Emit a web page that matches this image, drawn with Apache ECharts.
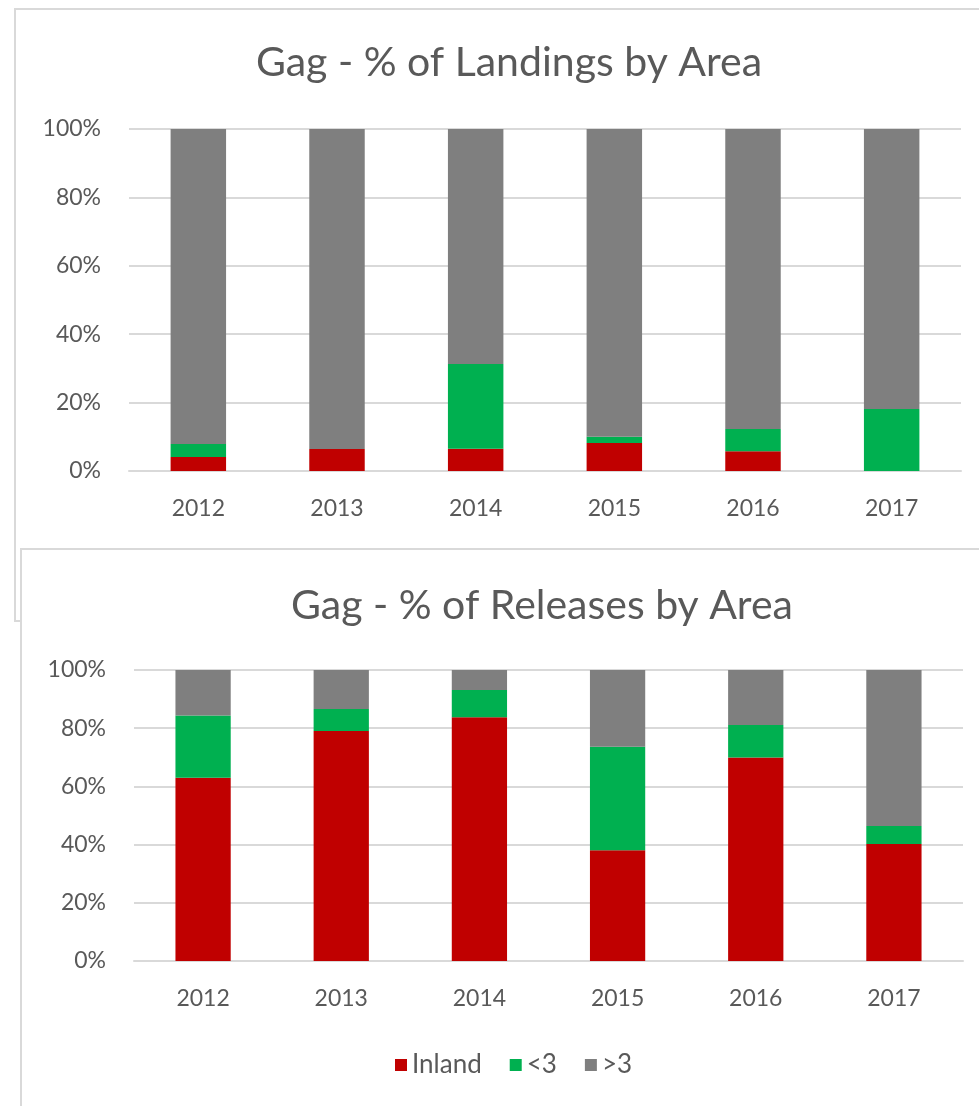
<!DOCTYPE html>
<html>
<head>
<meta charset="utf-8">
<script src="https://cdn.jsdelivr.net/npm/echarts@6/dist/echarts.min.js"></script>
<style>
  html, body { margin: 0; padding: 0; width: 979px; height: 1106px; overflow: hidden; background: #fff; }
  .panel { position: absolute; border: 2px solid #d9d9d9; background: #fff; }
  #topPanel { left: 14px; top: 8px; width: 1000px; height: 610px; }
  #bottomPanel { left: 20px; top: 548px; width: 1000px; height: 600px; }
  .chart { position: absolute; left: 0; top: 0; }
</style>
</head>
<body>
<div class="panel" id="topPanel"><div class="chart" id="landings" style="width:963px;height:610px"></div></div>
<div class="panel" id="bottomPanel"><div class="chart" id="releases" style="width:957px;height:556px"></div></div>
<script>
// data (percent of total)
const years = ['2012', '2013', '2014', '2015', '2016', '2017'];

const landInland = [4.1, 6.4, 6.5, 8.2, 5.8, 0];
const landUnder3 = [3.8, 0, 24.8, 1.8, 6.5, 18.1];
const landOver3 = [92.1, 93.6, 68.7, 90.0, 87.7, 81.9];

const relInland = [63.0, 79.0, 83.8, 38.1, 69.9, 40.2];
const relUnder3 = [21.4, 7.6, 9.3, 35.5, 11.2, 6.2];
const relOver3 = [15.6, 13.4, 6.9, 26.4, 18.9, 53.6];

const yTicks = [0, 20, 40, 60, 80, 100];

const seriesNames = ['Inland', '<3', '>3'];
const colors = ['#c00000', '#00b050', '#7f7f7f'];

const FONT = 'Lato, "Open Sans", sans-serif';
const TXT = '#595959';
const GRID = '#d9d9d9';

const makeOption = (cfg) => ({
  animation: false,
  textStyle: { fontFamily: FONT },
  title: {
    text: cfg.title,
    left: cfg.titleX,
    top: cfg.titleY,
    textAlign: 'center',
    textStyle: { fontFamily: FONT, fontSize: 41, fontWeight: 'normal', color: TXT },
  },
  legend: cfg.legend,
  grid: cfg.grid,
  xAxis: {
    type: 'category',
    data: years,
    axisLine: { lineStyle: { color: GRID, width: 2 } },
    axisTick: { show: false },
    axisLabel: { color: TXT, fontSize: 23, fontFamily: FONT, margin: 26 },
  },
  yAxis: {
    type: 'value',
    min: yTicks[0],
    max: yTicks[yTicks.length - 1],
    interval: 20,
    axisLine: { show: false },
    axisTick: { show: false },
    axisLabel: { color: TXT, fontSize: 23, fontFamily: FONT, margin: 28, formatter: '{value}%' },
    splitLine: { lineStyle: { color: GRID, width: 2 } },
  },
  series: cfg.data.map((d, i) => ({
    name: seriesNames[i],
    type: 'bar',
    stack: 'total',
    barWidth: '40%',
    itemStyle: { color: colors[i] },
    data: d,
  })),
});

const landChart = echarts.init(document.getElementById('landings'));
landChart.setOption(makeOption({
  title: 'Gag - % of Landings by Area',
  titleX: 488,
  titleY: 27,
  grid: { left: 113, top: 119, width: 832, height: 342 },
  legend: { show: false },
  data: [landInland, landUnder3, landOver3],
}));

const relChart = echarts.init(document.getElementById('releases'));
relChart.setOption(makeOption({
  title: 'Gag - % of Releases by Area',
  titleX: 515,
  titleY: 30,
  grid: { left: 112, top: 120, width: 829, height: 291 },
  legend: {
    left: 368,
    top: 497,
    itemWidth: 12,
    itemHeight: 12,
    itemGap: 28,
    icon: 'rect',
    textStyle: { color: TXT, fontSize: 26, fontFamily: FONT },
  },
  data: [relInland, relUnder3, relOver3],
}));
</script>
</body>
</html>
